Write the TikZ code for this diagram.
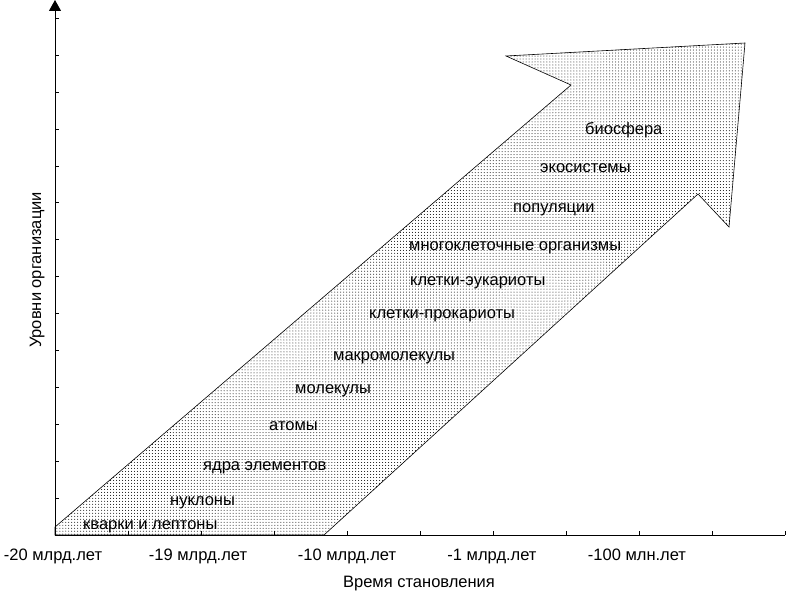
\documentclass[tikz,border=0pt]{standalone}
\usepackage{fontspec}
\setmainfont{Liberation Sans}
\usetikzlibrary{patterns,arrows.meta}
\tikzset{
  lbl/.style={anchor=base west, inner sep=0pt, font=\fontsize{16.5bp}{18bp}\selectfont},
  xlbl/.style={anchor=base, inner sep=0pt, font=\fontsize{16.5bp}{18bp}\selectfont},
  axis/.style={line width=1bp, black},
  tick/.style={line width=0.8bp, black},
  bigarrow/.style={draw=black, line width=0.6bp, pattern=dots, pattern color=black, line join=miter}
}
\begin{document}
\begin{tikzpicture}[x=1bp,y=-1bp]
\useasboundingbox (0,0) rectangle (796,597);
% big arrow
\draw[bigarrow] (55,535) -- (55,527) -- (571,85) -- (506,56) -- (745,43) -- (729,227) -- (698,194) -- (324,535) -- cycle;
% axes
\coordinate (O) at (55,535);
\coordinate (Ytop) at (55,0);
\coordinate (Xend) at (785,535);
\draw[axis, -{Triangle[length=11bp,width=12bp]}] (O) -- (Ytop);
\draw[axis] (O) -- (Xend);
\foreach \k in {1,...,14} {
  \draw[tick] (55,{535-36.9*\k}) -- (59,{535-36.9*\k});
}
\foreach \k in {1,...,10} {
  \draw[tick] ({55+73*\k},535) -- ({55+73*\k},531);
}
% x labels
\node[xlbl] (x1) at (53,560) {-20 млрд.лет};
\node[xlbl] (x2) at (198,560) {-19 млрд.лет};
\node[xlbl] (x3) at (347,560) {-10 млрд.лет};
\node[xlbl] (x4) at (492,560) {-1 млрд.лет};
\node[xlbl] (x5) at (637,560) {-100 млн.лет};
\node[xlbl] (xt) at (419,587) {Время становления};
\node[xlbl, rotate=90] (yt) at (41,270) {Уровни организации};
% level labels
\node[lbl] (l1) at (83,529) {кварки и лептоны};
\node[lbl] (l2) at (170,505) {нуклоны};
\node[lbl] (l3) at (203,470) {ядра элементов};
\node[lbl] (l4) at (269,430) {атомы};
\node[lbl] (l5) at (295,393) {молекулы};
\node[lbl] (l6) at (333,360) {макромолекулы};
\node[lbl] (l7) at (369,318) {клетки-прокариоты};
\node[lbl] (l8) at (410,285) {клетки-эукариоты};
\node[lbl] (l9) at (409,250) {многоклеточные организмы};
\node[lbl] (l10) at (513,213) {популяции};
\node[lbl] (l11) at (540,173) {экосистемы};
\node[lbl] (l12) at (585,135) {биосфера};
\end{tikzpicture}
\end{document}
